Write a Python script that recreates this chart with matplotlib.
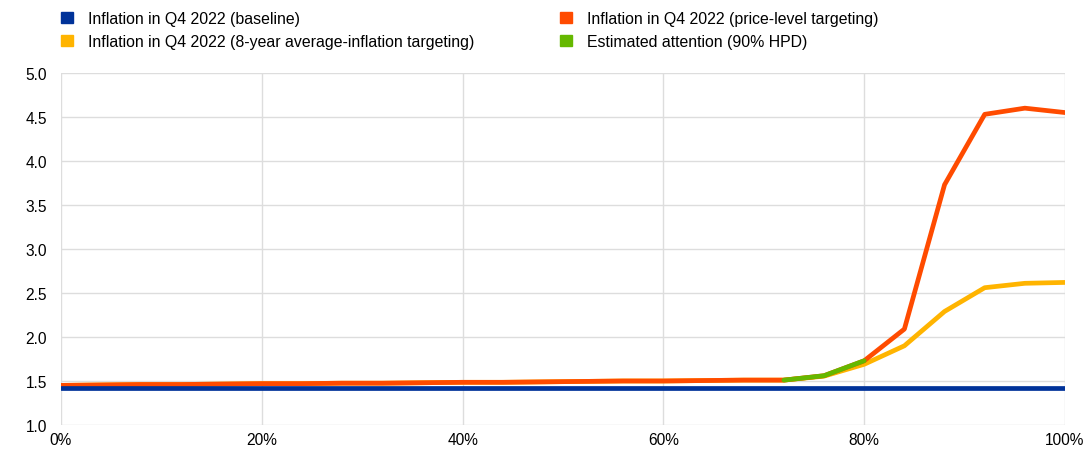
import matplotlib
matplotlib.use("Agg")
import matplotlib.pyplot as plt
from matplotlib.patches import Patch
from matplotlib.ticker import FuncFormatter, MultipleLocator

plt.rcParams['font.family'] = ['Liberation Sans', 'DejaVu Sans']

# Attention share (%)
x_full = [0, 4, 8, 12, 16, 20, 24, 28, 32, 36, 40, 44, 48, 52, 56, 60, 64, 68, 72, 76, 80, 84, 88, 92, 96, 100]
baseline = [1.42] * len(x_full)
price_level = [1.45, 1.455, 1.46, 1.46, 1.465, 1.47, 1.47, 1.475, 1.475, 1.48, 1.485, 1.485, 1.49, 1.495,
               1.50, 1.50, 1.505, 1.51, 1.51, 1.56, 1.73, 2.09, 3.73, 4.53, 4.60, 4.55]
avg_infl = [1.45, 1.455, 1.46, 1.46, 1.465, 1.47, 1.47, 1.475, 1.475, 1.48, 1.485, 1.485, 1.49, 1.495,
            1.50, 1.50, 1.505, 1.51, 1.51, 1.555, 1.69, 1.90, 2.29, 2.56, 2.61, 2.62]
x_att = [72, 76, 80]
attention = [1.51, 1.56, 1.73]

labels = ["Inflation in Q4 2022 (baseline)",
          "Inflation in Q4 2022 (8-year average-inflation targeting)",
          "Inflation in Q4 2022 (price-level targeting)",
          "Estimated attention (90% HPD)"]
c_blue, c_yellow, c_red, c_green = "#003299", "#FFB400", "#FF4B00", "#65B800"

fig = plt.figure(figsize=(10.85, 4.56), dpi=100)
ax = fig.add_axes([0.0562, 0.0658, 0.9254, 0.772])

lw = 3.4
ax.plot(x_full, avg_infl, color=c_yellow, lw=lw, solid_capstyle='round', zorder=3)
ax.plot(x_full, price_level, color=c_red, lw=lw, solid_capstyle='round', zorder=4)
ax.plot(x_att, attention, color=c_green, lw=lw, solid_capstyle='round', zorder=5)
ax.plot(x_full, baseline, color=c_blue, lw=lw, solid_capstyle='round', zorder=6)

ax.set_xlim(0, 100)
ax.set_ylim(1.0, 5.0)
ax.xaxis.set_major_locator(MultipleLocator(20))
ax.yaxis.set_major_locator(MultipleLocator(0.5))
ax.xaxis.set_major_formatter(FuncFormatter(lambda v, p: f"{int(round(v))}%"))
ax.yaxis.set_major_formatter(FuncFormatter(lambda v, p: f"{v:.1f}"))
ax.grid(True, color="#dddddd", lw=1.0)
ax.set_axisbelow(True)
for s in ax.spines.values():
    s.set_visible(False)
ax.tick_params(length=0, labelsize=11.2, colors="#000000")
ax.tick_params(axis='x', pad=5)
ax.tick_params(axis='y', pad=10)

handles = [Patch(color=c) for c in (c_blue, c_yellow, c_red, c_green)]
fig.legend(handles, labels, ncol=2, loc='upper left', bbox_to_anchor=(0.043, 1.005),
           frameon=False, fontsize=11.4, handlelength=0.75, handleheight=0.75,
           handletextpad=0.95, columnspacing=5.4, labelspacing=0.5)

fig.savefig("out.png", dpi=100)
